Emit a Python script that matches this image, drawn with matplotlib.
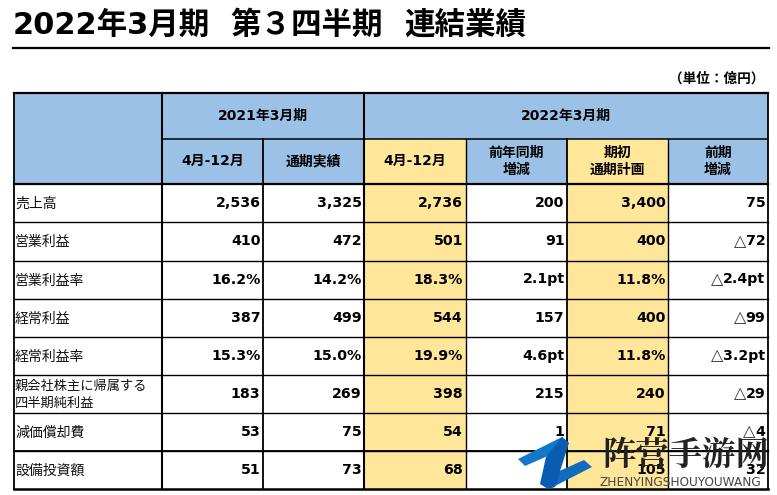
# Q3 consolidated results table, drawn on a pixel-sized axes
import matplotlib
matplotlib.use('Agg')
import matplotlib.pyplot as plt
from matplotlib.patches import Rectangle, Polygon

plt.rcParams['font.family'] = ['DejaVu Sans', 'Noto Sans CJK JP']

# =======================================================================================
# Data
# =======================================================================================

title_parts = ['2022年3月期', '第３四半期', '連結業績']
unit_label = '（単位：億円）'
group_labels = ['2021年3月期', '2022年3月期']
col_labels = ['4月-12月', '通期実績', '4月-12月', '前年同期\n増減', '期初\n通期計画', '前期\n増減']
row_labels = ['売上高', '営業利益', '営業利益率', '経常利益', '経常利益率',
              '親会社株主に帰属する\n四半期純利益', '減価償却費', '設備投資額']

col_2021_q3 = ['2,536', '410', '16.2%', '387', '15.3%', '183', '53', '51']
col_2021_full = ['3,325', '472', '14.2%', '499', '15.0%', '269', '75', '73']
col_2022_q3 = ['2,736', '501', '18.3%', '544', '19.9%', '398', '54', '68']
col_2022_yoy = ['200', '91', '2.1pt', '157', '4.6pt', '215', '1', '']
col_2022_plan = ['3,400', '400', '11.8%', '400', '11.8%', '240', '71', '105']
col_2022_prev = ['75', '△72', '△2.4pt', '△99', '△3.2pt', '△29', '△4', '32']
columns = [col_2021_q3, col_2021_full, col_2022_q3, col_2022_yoy, col_2022_plan, col_2022_prev]

# =======================================================================================
# Layout (pixels)
# =======================================================================================

x_edges = [14, 162, 263, 364, 465.5, 567, 668, 768]
y_edges = [93, 138.5, 184, 222, 260.5, 298.5, 336.5, 375, 413, 451, 489]
BLUE = '#9BC2E6'
YELLOW = '#FFE699'
highlight_cols = [2, 4]

fig = plt.figure(figsize=(7.77, 4.95), dpi=100, facecolor='w')
ax = fig.add_axes([0, 0, 1, 1])
ax.set_xlim(0, 777)
ax.set_ylim(495, 0)
ax.axis('off')

def fill(x0, x1, y0, y1, color):
    ax.add_patch(Rectangle((x0, y0), x1 - x0, y1 - y0, fc=color, ec='none', zorder=1))

def hline(y, x0, x1, lw):
    ax.plot([x0, x1], [y, y], color='k', lw=lw, solid_capstyle='projecting', zorder=3)

def vline(x, y0, y1, lw):
    ax.plot([x, x], [y0, y1], color='k', lw=lw, solid_capstyle='projecting', zorder=3)

# Title
for part, x in zip(title_parts, [13, 230, 404]):
    ax.text(x, 25, part, fontsize=22, fontweight='bold', va='center', ha='left', zorder=4)
hline(48, 13, 769, 1.6)
ax.text(764, 79, unit_label, fontsize=9.8, fontweight='bold', va='center', ha='right', zorder=4)

# Fills
fill(x_edges[0], x_edges[-1], y_edges[0], y_edges[2], BLUE)
for c in highlight_cols:
    fill(x_edges[c + 1], x_edges[c + 2], y_edges[1], y_edges[-1], YELLOW)

# Grid
for y in y_edges[3:-1]:
    hline(y, x_edges[0], x_edges[-1], 1.0)
hline(y_edges[-2], x_edges[0], x_edges[-1], 1.3)
hline(y_edges[2], x_edges[0], x_edges[-1], 1.6)
hline(y_edges[0], x_edges[0], x_edges[-1], 1.6)
hline(y_edges[-1], x_edges[0], x_edges[-1], 1.8)
hline(y_edges[1], x_edges[1], x_edges[-1], 1.1)
vline(x_edges[0], y_edges[0], y_edges[-1], 1.3)
vline(x_edges[-1], y_edges[0], y_edges[-1], 1.3)
for i in [1, 3]:
    vline(x_edges[i], y_edges[0], y_edges[-1], 1.5)
for i in [2, 5]:
    vline(x_edges[i], y_edges[1], y_edges[-1], 1.3)
for i in [4, 6]:
    vline(x_edges[i], y_edges[1], y_edges[-1], 1.0)

# Header text
ax.text((x_edges[1] + x_edges[3]) / 2, (y_edges[0] + y_edges[1]) / 2, group_labels[0],
        fontsize=10, fontweight='bold', ha='center', va='center', zorder=4)
ax.text((x_edges[3] + x_edges[7]) / 2, (y_edges[0] + y_edges[1]) / 2, group_labels[1],
        fontsize=10, fontweight='bold', ha='center', va='center', zorder=4)
for c, label in enumerate(col_labels):
    ax.text((x_edges[c + 1] + x_edges[c + 2]) / 2, (y_edges[1] + y_edges[2]) / 2, label,
            fontsize=10, fontweight='bold', ha='center', va='center', linespacing=1.3, zorder=4)

# Body
renderer = fig.canvas.get_renderer()
for r, label in enumerate(row_labels):
    ym = (y_edges[r + 2] + y_edges[r + 3]) / 2
    two_lines = '\n' in label
    ax.text(15, ym + 1, label, fontsize=9.5 if two_lines else 10, ha='left', va='center',
            linespacing=1.38, family=['Noto Sans CJK JP', 'DejaVu Sans'],
            color='#111111', zorder=4)
    for c, col in enumerate(columns):
        value = col[r]
        xr = x_edges[c + 2] - 2.5
        tri = value.startswith('△')
        t = ax.text(xr, ym, value.lstrip('△'), fontsize=10.2, fontweight='bold',
                    ha='right', va='center', zorder=4)
        if tri:
            x0 = ax.transData.inverted().transform(t.get_window_extent(renderer))[0, 0]
            ax.text(x0, ym, '△', fontsize=11.5, ha='right', va='center', color='#333333', zorder=4)

# Watermark
ax.add_patch(Polygon([(518, 459), (562, 437), (569, 443), (550, 455), (525, 466)],
                     fc='#1478C8', ec='none', zorder=5))
ax.add_patch(Polygon([(555, 473), (584, 460), (592, 467), (553, 487)],
                     fc='#0F6CBE', ec='none', zorder=5))
ax.add_patch(Polygon([(562, 437), (569, 443), (555, 487), (548, 489), (540, 484), (546, 457)],
                     fc='#0A5CB0', ec='none', zorder=5))
ax.text(602, 455, '阵营手游网', fontsize=24, fontweight='bold', ha='left', va='center',
        family=['Noto Serif CJK SC', 'Noto Sans CJK SC'], color='#222222', zorder=6)
ax.text(600, 483, 'ZHENYINGSHOUYOUWANG', fontsize=8.7, ha='left', va='center',
        color='#444444', zorder=6)

fig.savefig('out.png', dpi=100, facecolor='w')
